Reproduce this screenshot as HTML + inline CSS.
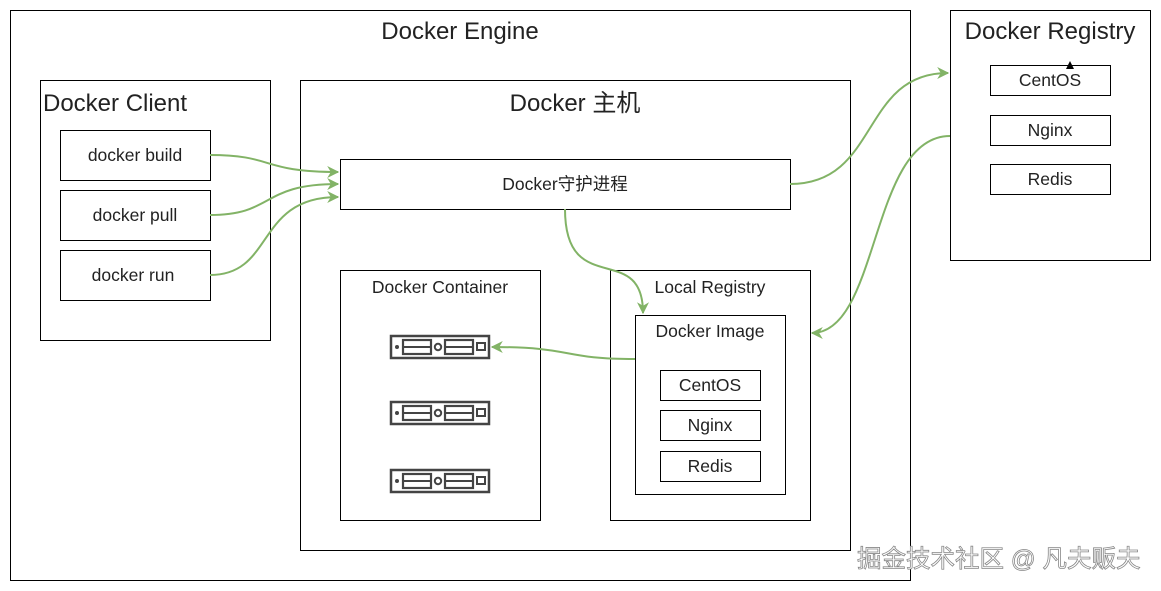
<!DOCTYPE html>
<html><head><meta charset="utf-8"><style>
html,body{margin:0;padding:0;background:#fff;}
svg{display:block;}
text{font-family:"Liberation Sans","Noto Sans CJK SC",sans-serif;fill:#222;}
</style></head><body>
<svg width="1161" height="591" viewBox="0 0 1161 591" xmlns="http://www.w3.org/2000/svg">
<defs>
<marker id="a" viewBox="0 0 10 10" refX="9" refY="5" markerWidth="12" markerHeight="12" markerUnits="userSpaceOnUse" orient="auto"><path d="M0,0 L10,5 L0,10 L3,5 Z" fill="#82b366"/></marker>
<g id="srv">
<rect x="1" y="1" width="98" height="22" fill="#fff" stroke="#444" stroke-width="2.5"/>
<circle cx="7" cy="12" r="2" fill="#444"/>
<rect x="13" y="5" width="28" height="14" fill="none" stroke="#444" stroke-width="2.2"/>
<line x1="13" y1="12" x2="41" y2="12" stroke="#444" stroke-width="2"/>
<circle cx="48" cy="12" r="3.2" fill="none" stroke="#444" stroke-width="2"/>
<rect x="55" y="5" width="28" height="14" fill="none" stroke="#444" stroke-width="2.2"/>
<line x1="55" y1="12" x2="83" y2="12" stroke="#444" stroke-width="2"/>
<rect x="87" y="8" width="8" height="7" fill="none" stroke="#444" stroke-width="2"/>
</g>
</defs>
<g fill="#fff" stroke="#000" stroke-width="1">
<rect x="10.5" y="10.5" width="900" height="570"/>
<rect x="40.5" y="80.5" width="230" height="260"/>
<rect x="60.5" y="130.5" width="150" height="50"/>
<rect x="60.5" y="190.5" width="150" height="50"/>
<rect x="60.5" y="250.5" width="150" height="50"/>
<rect x="300.5" y="80.5" width="550" height="470"/>
<rect x="340.5" y="159.5" width="450" height="50"/>
<rect x="340.5" y="270.5" width="200" height="250"/>
<rect x="610.5" y="270.5" width="200" height="250"/>
<rect x="635.5" y="315.5" width="150" height="179"/>
<rect x="660.5" y="370.5" width="100" height="30"/>
<rect x="660.5" y="410.5" width="100" height="30"/>
<rect x="660.5" y="451.5" width="100" height="30"/>
<rect x="950.5" y="10.5" width="200" height="250"/>
<rect x="990.5" y="65.5" width="120" height="30"/>
<rect x="990.5" y="115.5" width="120" height="30"/>
<rect x="990.5" y="164.5" width="120" height="30"/>
</g>
<text x="460" y="39" font-size="24" text-anchor="middle">Docker Engine</text>
<text x="43" y="111" font-size="24">Docker Client</text>
<text x="135" y="161" font-size="17.5" text-anchor="middle">docker build</text>
<text x="135" y="221" font-size="17.5" text-anchor="middle">docker pull</text>
<text x="133" y="281" font-size="17.5" text-anchor="middle">docker run</text>
<text x="575" y="111" font-size="24" text-anchor="middle">Docker 主机</text>
<text x="565" y="190" font-size="17.5" text-anchor="middle">Docker守护进程</text>
<text x="440" y="293" font-size="17.5" text-anchor="middle">Docker Container</text>
<text x="710" y="293" font-size="17.5" text-anchor="middle">Local Registry</text>
<text x="710" y="337" font-size="17.5" text-anchor="middle">Docker Image</text>
<text x="710" y="391" font-size="17.5" text-anchor="middle">CentOS</text>
<text x="710" y="431" font-size="17.5" text-anchor="middle">Nginx</text>
<text x="710" y="472" font-size="17.5" text-anchor="middle">Redis</text>
<text x="1050" y="39" font-size="24" text-anchor="middle">Docker Registry</text>
<text x="1050" y="86" font-size="17.5" text-anchor="middle">CentOS</text>
<text x="1050" y="136" font-size="17.5" text-anchor="middle">Nginx</text>
<text x="1050" y="185" font-size="17.5" text-anchor="middle">Redis</text>
<path d="M1066,69 L1070,61 L1074,69 Z" fill="#000"/>
<use href="#srv" x="390" y="335"/>
<use href="#srv" x="390" y="401"/>
<use href="#srv" x="390" y="469"/>
<g fill="none" stroke="#82b366" stroke-width="2">
<path d="M210,155 C275,155 260,172 338,172" marker-end="url(#a)"/>
<path d="M210,215 C275,215 260,184 338,184" marker-end="url(#a)"/>
<path d="M210,275 C275,275 255,197 338,197" marker-end="url(#a)"/>
<path d="M790,184 C880,184 860,73 948,73" marker-end="url(#a)"/>
<path d="M950,136 C870,136 880,333 812,333" marker-end="url(#a)"/>
<path d="M565,209 C565,300 643,240 643,313" marker-end="url(#a)"/>
<path d="M635,359 C560,359 575,347 492,347" marker-end="url(#a)"/>
</g>
<text x="857" y="567" font-size="24.5" stroke="#888" stroke-width="0.8" style="fill:#fff">掘金技术社区 @ 凡夫贩夫</text>
</svg>
</body></html>
